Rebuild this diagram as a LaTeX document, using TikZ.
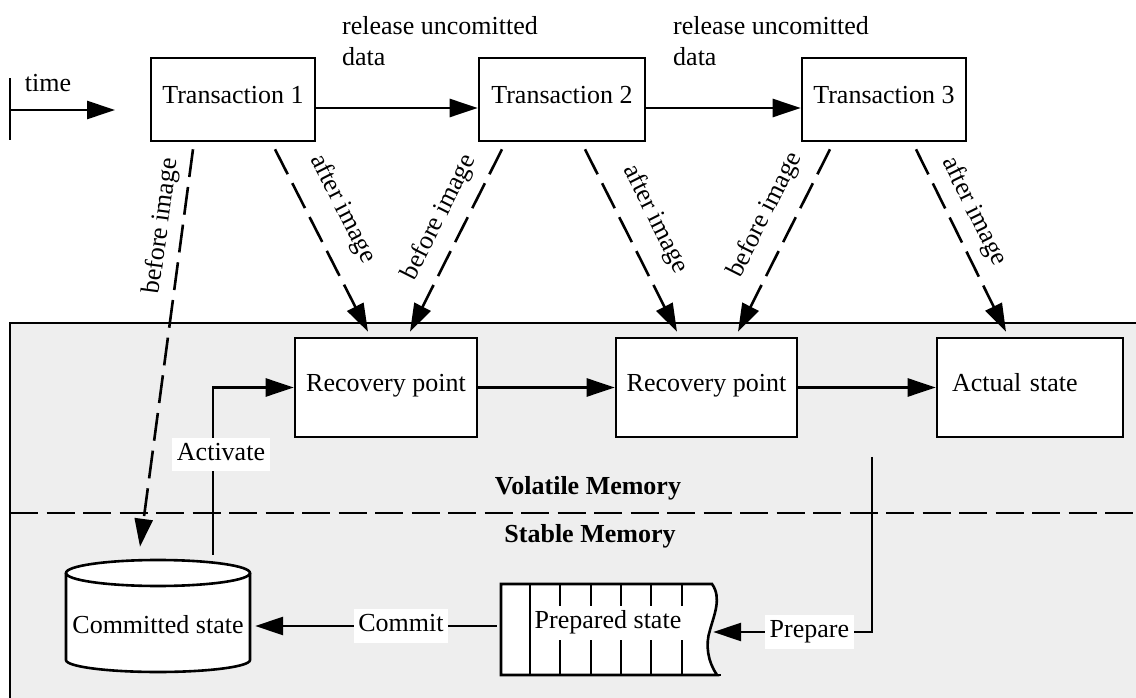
\documentclass[tikz,border=0pt]{standalone}
\usepackage{fontspec}
\setmainfont{Liberation Serif}
\usetikzlibrary{arrows.meta,calc}
\definecolor{panelgray}{RGB}{238,238,238}
\begin{document}
\begin{tikzpicture}[x=1pt,y=1pt,
  font=\fontsize{26}{31}\selectfont,
  ln/.style={line width=2.6pt},
  box/.style={draw, line width=2.6pt, fill=white, text height=18.2pt, text depth=9.9pt, inner sep=0pt},
  arr/.style={line width=2.6pt, -{Triangle[length=28pt,width=18pt]}},
  darr/.style={arr, dash pattern=on 28pt off 10pt},
  lbl/.style={fill=white, inner xsep=4.5pt, inner ysep=4.2pt, text height=18.2pt, text depth=6.5pt},
  diag/.style={sloped, above, inner xsep=0pt}
]
\useasboundingbox (0,0) rectangle (1136,697);
\clip (0,0) rectangle (1136,697);

% memory panel
\fill[panelgray] (10,-10) rectangle (1150,374);
\draw[ln] (10,-10) -- (10,374) -- (1150,374);
\draw[ln, dash pattern=on 28pt off 8.5pt] (10,184) -- (1150,184);
\node[font=\fontsize{26}{31}\selectfont\bfseries, anchor=base, inner sep=0pt] (vm) at (588,202) {Volatile Memory};
\node[font=\fontsize{26}{31}\selectfont\bfseries, anchor=base, inner sep=0pt] (sm) at (590,154) {Stable Memory};

% time axis
\draw[ln] (10,557) -- (10,619);
\coordinate (tA) at (10,587);
\coordinate (tB) at (115,587);
\draw[arr] (tA) -- (tB);
\node[anchor=base, inner sep=0pt] (tlbl) at (48,605) {time};

% transactions
\node[box, minimum width=164pt, minimum height=83pt] (t1) at (233,597.5) {Transaction 1};
\node[box, minimum width=166pt, minimum height=83pt] (t2) at (562,597.5) {Transaction 2};
\node[box, minimum width=164pt, minimum height=83pt] (t3) at (884,597.5) {Transaction 3};
\draw[arr] ([yshift=-8.5pt]t1.east) -- ([yshift=-8.5pt]t2.west);
\draw[arr] ([yshift=-8.5pt]t2.east) -- ([yshift=-8.5pt]t3.west);
\node[anchor=base west, align=left, inner sep=0pt] (rel1) at (342,631) {release uncomitted\\data};
\node[anchor=base west, align=left, inner sep=0pt] (rel2) at (673,631) {release uncomitted\\data};

% volatile states
\node[box, minimum width=182pt, minimum height=99pt] (r1) at (386,309.5) {Recovery point};
\node[box, minimum width=181pt, minimum height=99pt] (r2) at (706.5,309.5) {Recovery point};
\node[box, minimum width=186pt, minimum height=99pt, text width=156pt, align=left, inner xsep=15pt] (act) at (1030,309.5) {Actual state};
\draw[arr] (r1.east) -- (r2.west);
\draw[arr] (r2.east) -- (act.west);

% committed state (cylinder)
\node[minimum width=184pt, minimum height=112pt, inner sep=0pt] (cs) at (158,81) {};
\fill[white] (66,124) -- (66,37) arc[start angle=180, end angle=360, x radius=92, y radius=12]
  -- (250,124) arc[start angle=0, end angle=180, x radius=92, y radius=13] -- cycle;
\draw[ln] (66,124) -- (66,37) arc[start angle=180, end angle=360, x radius=92, y radius=12] -- (250,124);
\draw[ln] (158,124) ellipse[x radius=92, y radius=13];
\node (cslbl) at (158,72) {Committed state};

% prepared state (log with ragged end)
\node[minimum width=214pt, minimum height=91pt, inner sep=0pt] (psbox) at (608,67.5) {};
\filldraw[ln, fill=white] (501,113) -- (712,113) .. controls (722,99) and (714,82) .. (710,67)
  .. controls (705,52) and (708,35) .. (717,22) -- (501,22) -- cycle;
\draw[ln] (717,22) -- (721,22);
\foreach \xx in {530,560,591,621,651,682} \draw[ln] (\xx,113) -- (\xx,22);
\node[fill=white, inner xsep=4pt, inner ysep=5pt, text height=18.2pt, text depth=6.5pt] (pslbl) at (608,74) {Prepared state};

% images written by the transactions
\draw[darr] ([xshift=-40pt,yshift=-7pt]t1.south) -- node[diag, inner ysep=7.7pt, pos=0.2] {before image} ([xshift=-18pt,yshift=13pt]cs.north);
\draw[darr] ([xshift=42pt,yshift=-7pt]t1.south) -- node[diag, inner ysep=20pt, pos=0.41] {after image} ([xshift=-18pt,yshift=5pt]r1.north);
\draw[darr] ([xshift=-60pt,yshift=-7pt]t2.south) -- node[diag, inner ysep=12pt, pos=0.436] {before image} ([xshift=24pt,yshift=5pt]r1.north);
\draw[darr] ([xshift=23pt,yshift=-7pt]t2.south) -- node[diag, inner ysep=18pt, pos=0.46] {after image} ([xshift=-29.5pt,yshift=5pt]r2.north);
\draw[darr] ([xshift=-54pt,yshift=-7pt]t3.south) -- node[diag, inner ysep=15pt, pos=0.43] {before image} ([xshift=31.5pt,yshift=5pt]r2.north);
\draw[darr] ([xshift=32pt,yshift=-7pt]t3.south) -- node[diag, inner ysep=11pt, pos=0.40] {after image} ([xshift=-24pt,yshift=5pt]act.north);

% activate / commit / prepare
\draw[arr] ([xshift=55pt,yshift=5pt]cs.north) |- node[lbl, pos=0.3, xshift=8pt] {Activate} (r1.west);
\draw[arr] ([xshift=-4pt,yshift=3.5pt]psbox.west) -- node[lbl, pos=0.397] {Commit} ([xshift=5pt,yshift=-10pt]cs.east);
\coordinate (prep) at (872,240);
\draw[arr] (prep) |- node[lbl, pos=0.697] {Prepare} ([xshift=-2pt,yshift=-2.5pt]psbox.east);
\end{tikzpicture}
\end{document}
